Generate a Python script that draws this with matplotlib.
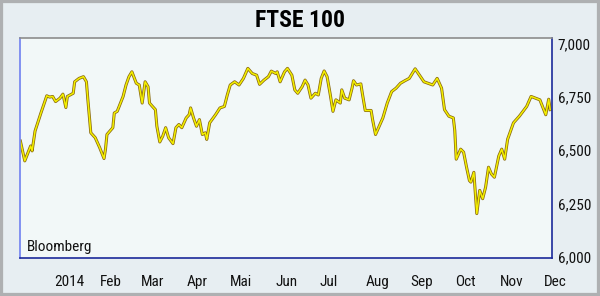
import matplotlib
matplotlib.use("Agg")
import matplotlib.pyplot as plt
import matplotlib.patheffects as pe
from matplotlib.patches import Rectangle
from matplotlib import font_manager as fm
import pandas as pd

dates = [
    "2013-12-09", "2013-12-12", "2013-12-16", "2013-12-17", "2013-12-19", "2013-12-23",
    "2013-12-27", "2013-12-29", "2013-12-31", "2014-01-02", "2014-01-05", "2014-01-07",
    "2014-01-09", "2014-01-10", "2014-01-14", "2014-01-15", "2014-01-18", "2014-01-21",
    "2014-01-23", "2014-01-24", "2014-01-26", "2014-01-29", "2014-02-01", "2014-02-04",
    "2014-02-05", "2014-02-06", "2014-02-10", "2014-02-11", "2014-02-13", "2014-02-17",
    "2014-02-19", "2014-02-21", "2014-02-23", "2014-02-26", "2014-02-28", "2014-03-02",
    "2014-03-04", "2014-03-06", "2014-03-07", "2014-03-09", "2014-03-11", "2014-03-12",
    "2014-03-14", "2014-03-16", "2014-03-18", "2014-03-20", "2014-03-23", "2014-03-25",
    "2014-03-27", "2014-03-29", "2014-04-01", "2014-04-03", "2014-04-04", "2014-04-06",
    "2014-04-08", "2014-04-10", "2014-04-12", "2014-04-14", "2014-04-15", "2014-04-17",
    "2014-04-21", "2014-04-24", "2014-04-27", "2014-04-29", "2014-05-01", "2014-05-04",
    "2014-05-07", "2014-05-10", "2014-05-13", "2014-05-16", "2014-05-19", "2014-05-21",
    "2014-05-24", "2014-05-27", "2014-05-29", "2014-06-01", "2014-06-02", "2014-06-04",
    "2014-06-07", "2014-06-09", "2014-06-12", "2014-06-14", "2014-06-16", "2014-06-19",
    "2014-06-21", "2014-06-23", "2014-06-25", "2014-06-28", "2014-06-30", "2014-07-02",
    "2014-07-04", "2014-07-06", "2014-07-08", "2014-07-10", "2014-07-12", "2014-07-15",
    "2014-07-16", "2014-07-18", "2014-07-21", "2014-07-23", "2014-07-24", "2014-07-26",
    "2014-07-29", "2014-07-30", "2014-08-01", "2014-08-05", "2014-08-06", "2014-08-08",
    "2014-08-11", "2014-08-13", "2014-08-16", "2014-08-19", "2014-08-22", "2014-08-25",
    "2014-08-28", "2014-08-31", "2014-09-04", "2014-09-10", "2014-09-16", "2014-09-19",
    "2014-09-22", "2014-09-24", "2014-09-27", "2014-09-30", "2014-10-01", "2014-10-02",
    "2014-10-05", "2014-10-07", "2014-10-09", "2014-10-11", "2014-10-12", "2014-10-14",
    "2014-10-16", "2014-10-18", "2014-10-20", "2014-10-22", "2014-10-24", "2014-10-26",
    "2014-10-28", "2014-10-31", "2014-11-02", "2014-11-04", "2014-11-06", "2014-11-10",
    "2014-11-14", "2014-11-19", "2014-11-22", "2014-11-28", "2014-12-02", "2014-12-04",
    "2014-12-05",
]
values = [
    6550, 6457, 6527, 6504, 6597, 6682,
    6763, 6757, 6760, 6736, 6752, 6771,
    6708, 6760, 6775, 6829, 6845, 6853,
    6829, 6744, 6589, 6566, 6520, 6468,
    6512, 6581, 6613, 6682, 6690, 6760,
    6814, 6853, 6876, 6822, 6814, 6729,
    6829, 6806, 6729, 6713, 6698, 6620,
    6546, 6573, 6613, 6566, 6538, 6613,
    6628, 6613, 6659, 6674, 6706, 6659,
    6620, 6651, 6581, 6589, 6558, 6636,
    6674, 6706, 6713, 6767, 6814, 6829,
    6814, 6845, 6892, 6868, 6860, 6817,
    6837, 6853, 6879, 6868, 6876, 6829,
    6876, 6892, 6860, 6791, 6775, 6806,
    6837, 6814, 6752, 6775, 6767, 6845,
    6880, 6853, 6775, 6690, 6744, 6729,
    6791, 6752, 6744, 6799, 6834, 6814,
    6819, 6775, 6694, 6694, 6651, 6581,
    6628, 6659, 6729, 6783, 6799, 6822,
    6834, 6845, 6890, 6829, 6814, 6845,
    6799, 6698, 6667, 6659, 6600, 6465,
    6512, 6498, 6428, 6364, 6357, 6403,
    6209, 6318, 6279, 6333, 6427, 6395,
    6380, 6480, 6512, 6465, 6558, 6636,
    6667, 6713, 6760, 6744, 6674, 6747,
    6698,
]
month_ticks = ["2014-01-01", "2014-02-01", "2014-03-01", "2014-04-01", "2014-05-01",
               "2014-06-01", "2014-07-01", "2014-08-01", "2014-09-01", "2014-10-01",
               "2014-11-01", "2014-12-01"]
month_labels = ["2014", "Feb", "Mar", "Apr", "Mai", "Jun", "Jul", "Aug", "Sep", "Oct",
                "Nov", "Dec"]
y_ticks = [6000, 6250, 6500, 6750, 7000]
y_labels = ["6,000", "6,250", "6,500", "6,750", "7,000"]
title = "FTSE 100"
source = "Bloomberg"

# font selection: prefer a narrow family
names = {f.name for f in fm.fontManager.ttflist}
narrow = None
for cand in ["Liberation Sans Narrow", "Roboto Condensed", "Open Sans Condensed", "Arial Narrow"]:
    if cand in names:
        narrow = cand
        break
if narrow is None:
    fkw = dict(family="DejaVu Sans", stretch="condensed")
else:
    fkw = dict(family=narrow)

x = pd.to_datetime(dates)
fig = plt.figure(figsize=(6.0, 2.96), dpi=100)
fig.patch.set_facecolor("#e7eef2")
fig.patches.append(Rectangle((0, 0), 1, 1, transform=fig.transFigure, fill=False,
                             edgecolor="#aeb0b2", linewidth=4.5))

ax = fig.add_axes([20 / 600, 38 / 296, 532 / 600, 220 / 296])
ax.set_facecolor("#f2f8f8")
ax.plot(x, values, color="#f4f000", linewidth=1.1,
        path_effects=[pe.Stroke(linewidth=2.2, foreground="#8a6a10"), pe.Normal()])

ax.set_xlim(pd.Timestamp("2013-12-08 18:00"), pd.Timestamp("2014-12-06 06:00"))
ax.set_ylim(6005, 7035)
ax.set_yticks(y_ticks)
ax.set_yticklabels(y_labels, **fkw)
ax.yaxis.tick_right()
ax.set_xticks(pd.to_datetime(month_ticks))
ax.set_xticklabels(month_labels, ha="left", **fkw)
ax.tick_params(axis="both", length=0, labelsize=11, colors="#111111")
ax.tick_params(axis="x", pad=12)
ax.tick_params(axis="y", pad=4)
for lab in ax.get_yticklabels():
    lab.set_verticalalignment("center")

ax.spines["left"].set_color("#6f80f0")
ax.spines["top"].set_color("#8c8c8c")
ax.spines["right"].set_color("#1c2a9a")
ax.spines["bottom"].set_color("#1c2a9a")
for s in ax.spines.values():
    s.set_linewidth(1.2)

ax.text(0.013, 0.03, source, transform=ax.transAxes, ha="left", va="baseline",
        fontsize=11, color="#111111", **fkw)
fig.text(0.5, 0.93, title, ha="center", va="center", fontsize=17, fontweight="heavy",
         color="#000000", **fkw)

fig.savefig("out.png", dpi=100, facecolor=fig.get_facecolor())
